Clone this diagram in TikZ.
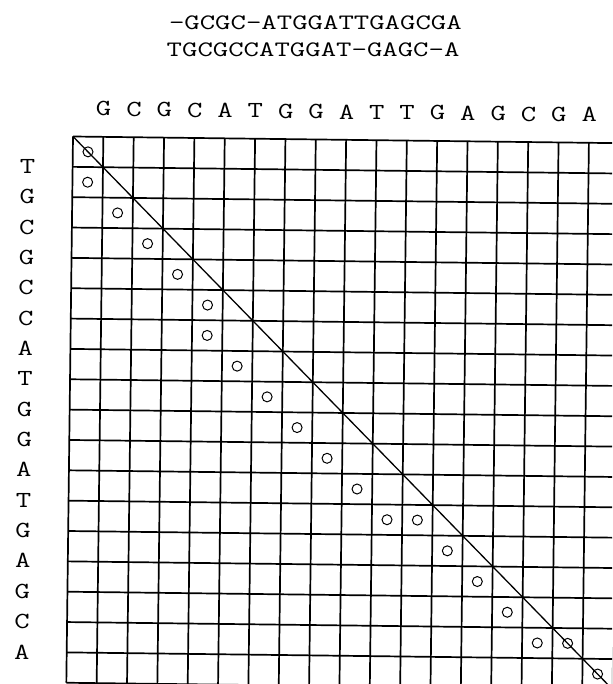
\documentclass[tikz,border=0pt]{standalone}
\begin{document}
\begin{tikzpicture}[x=1pt,y=-1pt,
  gridline/.style={line width=1.7pt},
  diagline/.style={line width=1.3pt},
  lab/.style={font=\ttfamily\fontsize{23}{23}\selectfont, inner sep=0pt, anchor=center},
  seqtxt/.style={font=\ttfamily\fontsize{22}{22}\selectfont, inner sep=0pt, anchor=center},
  dot/.style={circle, draw, line width=1pt, minimum size=10pt, inner sep=0pt}]
\clip (0,0) rectangle (612,684);
\fill[white] (0,0) rectangle (612,684);
\def\s{30.35}
\begin{scope}[shift={(73,136.5)}, rotate=-0.7]
  % alignment text
  \node[seqtxt] (al1) at (241,-117) {\scalebox{1.36}[1]{-GCGC-ATGGATTGAGCGA}};
  \node[seqtxt] (al2) at (239,-90) {\scalebox{1.36}[1]{TGCGCCATGGAT-GAGC-A}};
  % grid
  \foreach \i in {0,...,18} {
    \draw[gridline] (\i*\s,0) -- (\i*\s,18*\s);
    \draw[gridline] (0,\i*\s) -- (18*\s,\i*\s);
  }
  % column labels
  \foreach \l [count=\i] in {G,C,G,C,A,T,G,G,A,T,T,G,A,G,C,G,A}
    \node[lab] (col\i) at (\i*\s,-28) {\scalebox{1.3}[1]{\l}};
  % row labels
  \foreach \l [count=\j] in {T,G,C,G,C,C,A,T,G,G,A,T,G,A,G,C,A}
    \node[lab] (row\j) at (-45,\j*\s) {\scalebox{1.3}[1]{\l}};
  % diagonal
  \coordinate (tl) at (0,0);
  \coordinate (br) at (18*\s,18*\s);
  \draw[diagline] (tl) -- (br);
  % circles (row,col)
  \foreach \r/\c [count=\k] in {0/0,1/0,2/1,3/2,4/3,5/4,6/4,7/5,8/6,9/7,10/8,11/9,12/10,12/11,13/12,14/13,15/14,16/15,16/16,17/17}
    \node[dot] (m\k) at ({(\c+0.5)*\s},{(\r+0.5)*\s}) {};
\end{scope}
\end{tikzpicture}
\end{document}
